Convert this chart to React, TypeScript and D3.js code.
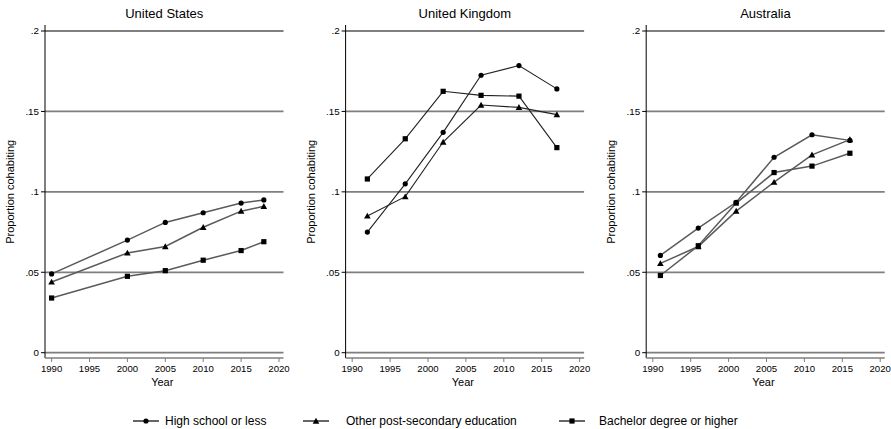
import * as d3 from 'd3';

const countries = ['United States', 'United Kingdom', 'Australia'];
const seriesNames = ['High school or less', 'Other post-secondary education', 'Bachelor degree or higher'];
const markers = ['circle', 'triangle', 'square'];

const usYears = [1990, 2000, 2005, 2010, 2015, 2018];
const usHighSchool = [0.049, 0.070, 0.081, 0.087, 0.093, 0.095];
const usOther = [0.044, 0.062, 0.066, 0.078, 0.088, 0.091];
const usBachelor = [0.034, 0.0475, 0.051, 0.0575, 0.0635, 0.069];

const ukYears = [1992, 1997, 2002, 2007, 2012, 2017];
const ukHighSchool = [0.075, 0.105, 0.137, 0.1725, 0.1785, 0.164];
const ukOther = [0.085, 0.097, 0.131, 0.154, 0.1525, 0.148];
const ukBachelor = [0.108, 0.133, 0.1625, 0.160, 0.1595, 0.1275];

const auYears = [1991, 1996, 2001, 2006, 2011, 2016];
const auHighSchool = [0.0605, 0.0775, 0.0935, 0.1215, 0.1355, 0.132];
const auOther = [0.0555, 0.066, 0.088, 0.106, 0.123, 0.1325];
const auBachelor = [0.048, 0.0665, 0.093, 0.112, 0.116, 0.124];

const xTicks = [1990, 1995, 2000, 2005, 2010, 2015, 2020];
const yTicks = [0, 0.05, 0.1, 0.15, 0.2];
const yTickLabels = ['0', '.05', '.1', '.15', '.2'];

const panelYears = [usYears, ukYears, auYears];
const panelValues = [
  [usHighSchool, usOther, usBachelor],
  [ukHighSchool, ukOther, ukBachelor],
  [auHighSchool, auOther, auBachelor],
];
const lineColors = ['#5a5a5a', '#222222', '#5a5a5a'];

const FONT = '"Liberation Sans", Arial, Helvetica, sans-serif';

function Marker({ type, x, y }: { type: string; x: number; y: number }) {
  if (type === 'circle') return <circle cx={x} cy={y} r={2.6} fill="#000" />;
  if (type === 'triangle') {
    const s = 3.3;
    return <path d={`M${x},${y - s}L${x + s},${y + s * 0.8}L${x - s},${y + s * 0.8}Z`} fill="#000" />;
  }
  return <rect x={x - 2.6} y={y - 2.6} width={5.2} height={5.2} fill="#000" />;
}

function Panel({ idx }: { idx: number }) {
  const axisX = 45 + idx * 300.6;
  const x = d3.scaleLinear().domain([1990, 2020]).range([axisX + 6.6, axisX + 234]);
  const y = d3.scaleLinear().domain([0, 0.2]).range([352.7, 31]);
  const gridRight = axisX + 238.5;
  const axisBottom = 358;
  const line = d3.line<[number, number]>().x(d => x(d[0])).y(d => y(d[1]));
  const years = panelYears[idx];

  return (
    <g>
      <text x={(axisX + gridRight) / 2} y={18} textAnchor="middle" fontSize={13} fontFamily={FONT}>
        {countries[idx]}
      </text>
      {yTicks.map(t => (
        <line key={t} x1={axisX} x2={gridRight} y1={y(t)} y2={y(t)} stroke="#7f7f7f" strokeWidth={1.8} />
      ))}
      <line x1={axisX} x2={axisX} y1={25} y2={axisBottom} stroke="#000" strokeWidth={1} />
      {yTicks.map((t, i) => (
        <g key={t}>
          <line x1={axisX - 4} x2={axisX} y1={y(t)} y2={y(t)} stroke="#000" strokeWidth={1} />
          <text x={axisX - 6} y={y(t)} dy="0.35em" textAnchor="end" fontSize={9.8} fontFamily={FONT}>
            {yTickLabels[i]}
          </text>
        </g>
      ))}
      <line x1={axisX} x2={gridRight} y1={axisBottom} y2={axisBottom} stroke="#7f7f7f" strokeWidth={1.6} />
      {xTicks.map(t => (
        <g key={t}>
          <line x1={x(t)} x2={x(t)} y1={axisBottom} y2={axisBottom + 4} stroke="#7f7f7f" strokeWidth={1} />
          <text x={x(t)} y={372} textAnchor="middle" fontSize={9.6} fontFamily={FONT}>
            {t}
          </text>
        </g>
      ))}
      <text x={(axisX + gridRight) / 2 - 2} y={386} textAnchor="middle" fontSize={11} fontFamily={FONT}>
        Year
      </text>
      <text
        transform={`translate(${axisX - 31},${y(0.1)}) rotate(-90)`}
        textAnchor="middle"
        fontSize={11}
        fontFamily={FONT}
      >
        Proportion cohabiting
      </text>
      {panelValues[idx].map((vals, s) => {
        const pts = years.map((yr, i) => [yr, vals[i]] as [number, number]);
        return (
          <g key={s}>
            <path d={line(pts) || ''} fill="none" stroke={lineColors[idx]} strokeWidth={idx === 1 ? 1.1 : 1.5} />
            {pts.map((p, i) => (
              <Marker key={i} type={markers[s]} x={x(p[0])} y={y(p[1])} />
            ))}
          </g>
        );
      })}
    </g>
  );
}

const legendSymbolX = [146, 316, 572];
const legendTextX = [165, 346, 599];

export default function App() {
  return (
    <svg width={891} height={429} style={{ display: 'block', position: 'absolute', left: 0, top: 0, background: '#fff' }}>
      {[0, 1, 2].map(i => (
        <Panel key={i} idx={i} />
      ))}
      {seriesNames.map((name, i) => (
        <g key={name}>
          <line x1={legendSymbolX[i] - 13} x2={legendSymbolX[i] + 13} y1={421} y2={421} stroke="#000" strokeWidth={1.2} />
          <Marker type={markers[i]} x={legendSymbolX[i]} y={421} />
          <text x={legendTextX[i]} y={421} dy="0.35em" fontSize={12} fontFamily={FONT}>
            {name}
          </text>
        </g>
      ))}
    </svg>
  );
}
